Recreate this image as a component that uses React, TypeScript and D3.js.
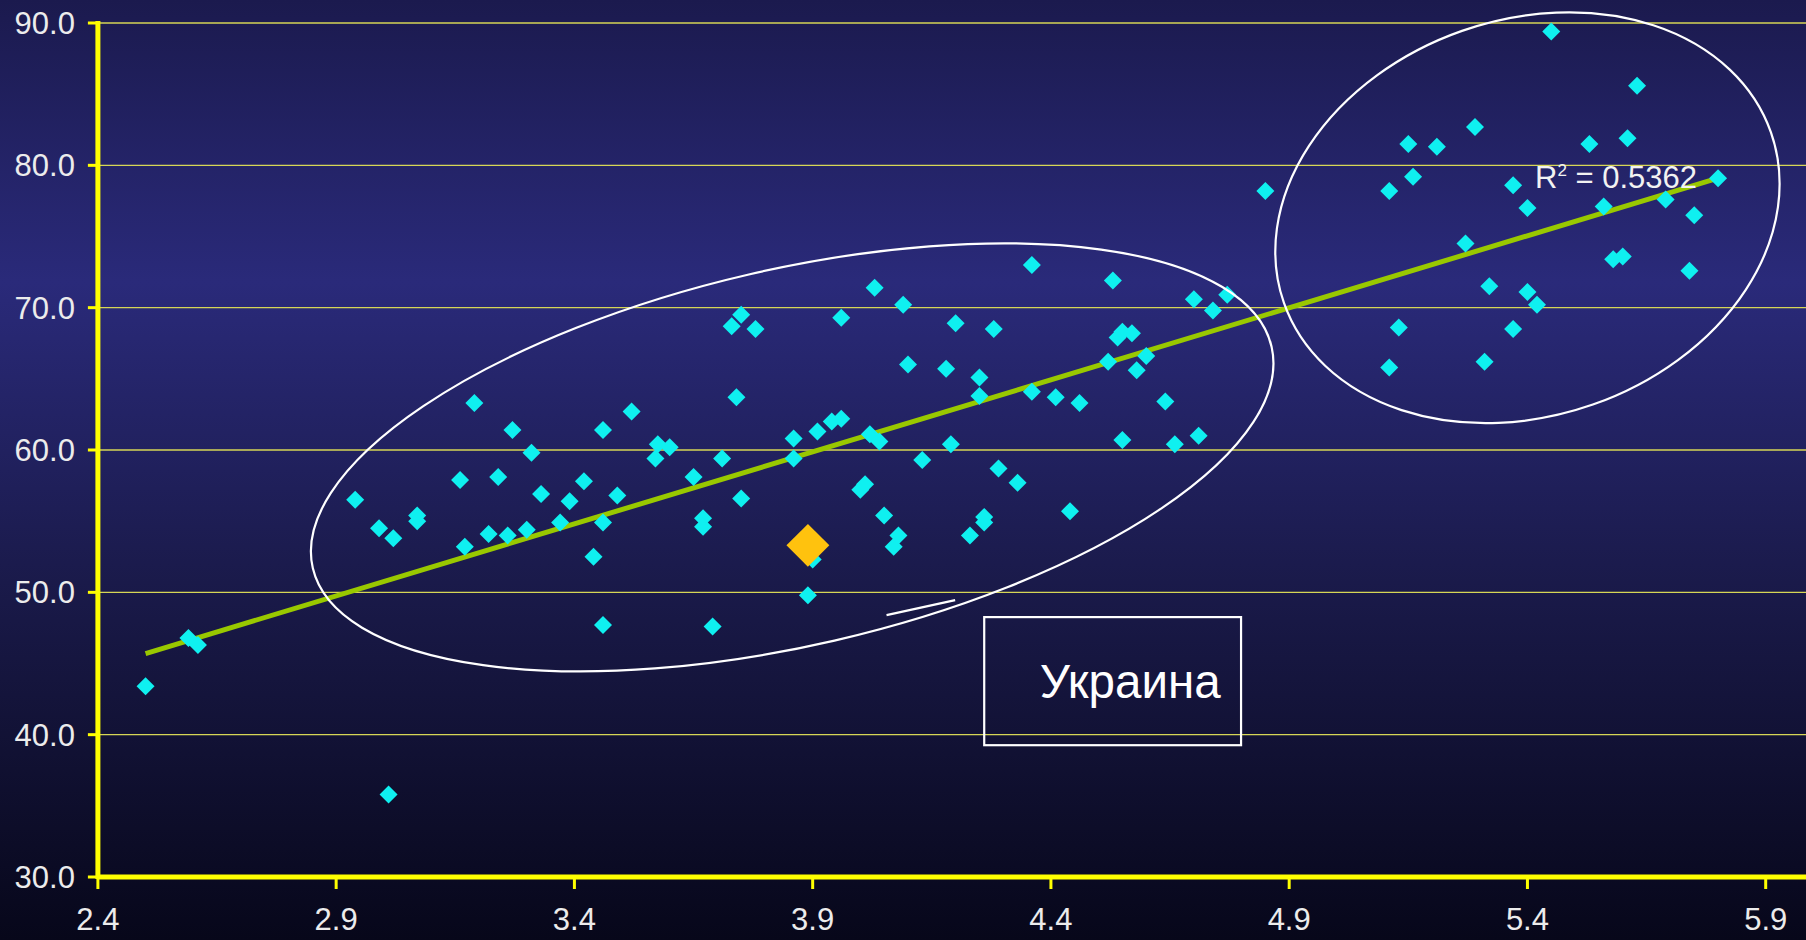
import { useRef, useEffect } from 'react';
import * as d3 from 'd3';

// x: index, y: value
const countries: [number, number][] = [
  [2.50, 43.4], [2.59, 46.8], [2.61, 46.3], [2.94, 56.5], [2.99, 54.5], [3.02, 53.8],
  [3.01, 35.8], [3.07, 55.4], [3.07, 55.0], [3.16, 57.9], [3.17, 53.2], [3.19, 63.3],
  [3.22, 54.1], [3.24, 58.1], [3.26, 54.0], [3.27, 61.4], [3.30, 54.4], [3.31, 59.8],
  [3.33, 56.9], [3.37, 54.9], [3.39, 56.4], [3.42, 57.8], [3.44, 52.5], [3.46, 61.4],
  [3.46, 54.9], [3.46, 47.7], [3.49, 56.8], [3.52, 62.7], [3.57, 59.4], [3.575, 60.4],
  [3.60, 60.2], [3.65, 58.1], [3.67, 55.2], [3.67, 54.6], [3.69, 47.6], [3.71, 59.4],
  [3.73, 68.7], [3.74, 63.7], [3.75, 69.5], [3.75, 56.6], [3.78, 68.5], [3.86, 60.8],
  [3.86, 59.4], [3.90, 52.3], [3.89, 49.8], [3.91, 61.3], [3.94, 62.0], [3.96, 69.3],
  [3.96, 62.2], [4.00, 57.2], [4.01, 57.6], [4.02, 61.1], [4.03, 71.4], [4.04, 60.6],
  [4.05, 55.4], [4.07, 53.2], [4.08, 54.0], [4.09, 70.2], [4.10, 66.0], [4.13, 59.3],
  [4.18, 65.7], [4.19, 60.4], [4.20, 68.9], [4.23, 54.0], [4.25, 65.1], [4.25, 63.8],
  [4.26, 54.9], [4.26, 55.3], [4.28, 68.5], [4.29, 58.7], [4.33, 57.7], [4.36, 73.0],
  [4.36, 64.1], [4.41, 63.7], [4.44, 55.7], [4.46, 63.3], [4.52, 66.2], [4.53, 71.9],
  [4.54, 67.9], [4.55, 60.7], [4.55, 68.3], [4.57, 68.2], [4.58, 65.6], [4.60, 66.6],
  [4.64, 63.4], [4.66, 60.4], [4.70, 70.6], [4.71, 61.0], [4.74, 69.8], [4.77, 70.9],
  [4.85, 78.2], [5.11, 65.8], [5.11, 78.2], [5.13, 68.6], [5.15, 81.5], [5.16, 79.2],
  [5.21, 81.3], [5.27, 74.5], [5.29, 82.7], [5.31, 66.2], [5.32, 71.5], [5.37, 78.6],
  [5.37, 68.5], [5.40, 77.0], [5.40, 71.1], [5.42, 70.2], [5.45, 89.4], [5.53, 81.5],
  [5.56, 77.1], [5.58, 73.4], [5.60, 73.6], [5.61, 81.9], [5.63, 85.6], [5.69, 77.6],
  [5.74, 72.6], [5.75, 76.5], [5.80, 79.1],
];

const ukraine: [number, number] = [3.89, 53.3];

// linear trend, end points as drawn
const trend: [number, number][] = [[2.5, 45.7], [5.8, 79.1]];
const rSquared = '0.5362';

const xTicks = [2.4, 2.9, 3.4, 3.9, 4.4, 4.9, 5.4, 5.9];
const yTicks = [30, 40, 50, 60, 70, 80, 90];

// annotation ellipses: centre in data units, radii in px, rotation in degrees
const clusters = [
  { cx: 3.857, cy: 59.48, rx: 492, ry: 188, rot: -13 },
  { cx: 5.40, cy: 76.32, rx: 258, ry: 198, rot: -19.3 },
];

const W = 1806;
const H = 940;

export default function App() {
  const svgRef = useRef<SVGSVGElement>(null);

  useEffect(() => {
    if (!svgRef.current) return;
    const svg = d3.select(svgRef.current);
    svg.selectAll('*').remove();

    const left = 97.9;
    const right = 1765.7;
    const top = 23;
    const bottom = 877;

    const x = d3.scaleLinear().domain([2.4, 5.9]).range([left, right]);
    const y = d3.scaleLinear().domain([30, 90]).range([bottom, top]);

    const font = '"Liberation Sans", Arial, sans-serif';

    // Background
    const defs = svg.append('defs');
    const grad = defs.append('linearGradient')
      .attr('id', 'bg').attr('x1', 0).attr('y1', 0).attr('x2', 0).attr('y2', 1);
    grad.append('stop').attr('offset', '0%').attr('stop-color', '#1b1a4e');
    grad.append('stop').attr('offset', '30%').attr('stop-color', '#2a2a7a');
    grad.append('stop').attr('offset', '62%').attr('stop-color', '#1a1a4a');
    grad.append('stop').attr('offset', '100%').attr('stop-color', '#07071a');
    svg.append('rect').attr('width', W).attr('height', H).attr('fill', 'url(#bg)');

    // Grid
    svg.append('g')
      .selectAll('line')
      .data(yTicks.slice(1))
      .join('line')
      .attr('x1', left).attr('x2', W)
      .attr('y1', (d) => y(d)).attr('y2', (d) => y(d))
      .attr('stroke', '#d6d656').attr('stroke-width', 1.3);

    // Trend line
    svg.append('path')
      .datum(trend)
      .attr('d', d3.line<[number, number]>().x((d) => x(d[0])).y((d) => y(d[1])))
      .attr('fill', 'none')
      .attr('stroke', '#99c800')
      .attr('stroke-width', 5);

    // Country points
    const diamond = d3.symbol().type(d3.symbolSquare).size(162)();
    svg.append('g')
      .selectAll('path')
      .data(countries)
      .join('path')
      .attr('d', diamond)
      .attr('transform', (d) => `translate(${x(d[0])},${y(d[1])}) rotate(45)`)
      .attr('fill', '#0ff0f0');

    // Ukraine
    svg.append('path')
      .attr('d', d3.symbol().type(d3.symbolSquare).size(920)())
      .attr('transform', `translate(${x(ukraine[0])},${y(ukraine[1])}) rotate(45)`)
      .attr('fill', '#ffc20e');

    // Cluster ellipses
    clusters.forEach((c) => {
      svg.append('ellipse')
        .attr('transform', `translate(${x(c.cx)},${y(c.cy)}) rotate(${c.rot})`)
        .attr('rx', c.rx).attr('ry', c.ry)
        .attr('fill', 'none')
        .attr('stroke', '#ffffff')
        .attr('stroke-width', 2.2);
    });

    // Ukraine callout
    svg.append('line')
      .attr('x1', x(4.055)).attr('y1', y(48.4))
      .attr('x2', x(4.199)).attr('y2', y(49.45))
      .attr('stroke', '#ffffff').attr('stroke-width', 2.2);
    svg.append('rect')
      .attr('x', x(4.26)).attr('y', y(48.26))
      .attr('width', x(4.799) - x(4.26))
      .attr('height', y(39.26) - y(48.26))
      .attr('fill', 'none')
      .attr('stroke', '#ffffff').attr('stroke-width', 2.2);
    svg.append('text')
      .attr('x', x(4.756)).attr('y', y(42.56))
      .attr('text-anchor', 'end')
      .attr('fill', '#ffffff')
      .style('font-family', font).style('font-size', '47.5px')
      .text('Украина');

    // R squared
    const r2 = svg.append('text')
      .attr('x', x(5.416)).attr('y', y(78.4))
      .attr('fill', '#f2f2f2')
      .style('font-family', font).style('font-size', '31px');
    r2.append('tspan').text('R');
    r2.append('tspan').attr('dy', -12).style('font-size', '17px').text('2');
    r2.append('tspan').attr('dy', 12).text(` = ${rSquared}`);

    // Axes
    const axisColor = '#ffff00';
    svg.append('g')
      .selectAll('line')
      .data(xTicks)
      .join('line')
      .attr('x1', (d) => x(d)).attr('x2', (d) => x(d))
      .attr('y1', bottom).attr('y2', bottom + 12)
      .attr('stroke', axisColor).attr('stroke-width', 3);
    svg.append('g')
      .selectAll('line')
      .data(yTicks)
      .join('line')
      .attr('x1', left - 10).attr('x2', left)
      .attr('y1', (d) => y(d)).attr('y2', (d) => y(d))
      .attr('stroke', axisColor).attr('stroke-width', 3);
    svg.append('line')
      .attr('x1', left).attr('x2', W)
      .attr('y1', bottom).attr('y2', bottom)
      .attr('stroke', axisColor).attr('stroke-width', 5);
    svg.append('line')
      .attr('x1', left).attr('x2', left)
      .attr('y1', top - 2).attr('y2', bottom + 2)
      .attr('stroke', axisColor).attr('stroke-width', 5);

    // Tick labels
    svg.append('g')
      .selectAll('text')
      .data(yTicks)
      .join('text')
      .attr('x', left - 23)
      .attr('y', (d) => y(d) + 11)
      .attr('text-anchor', 'end')
      .attr('fill', '#ececec')
      .style('font-family', font).style('font-size', '31px')
      .text((d) => d.toFixed(1));
    svg.append('g')
      .selectAll('text')
      .data(xTicks)
      .join('text')
      .attr('x', (d) => x(d))
      .attr('y', 930)
      .attr('text-anchor', 'middle')
      .attr('fill', '#ececec')
      .style('font-family', font).style('font-size', '31px')
      .text((d) => d.toFixed(1));
  }, []);

  return (
    <svg
      ref={svgRef}
      width={W}
      height={H}
      style={{ position: 'absolute', left: 0, top: 0, display: 'block' }}
    />
  );
}
